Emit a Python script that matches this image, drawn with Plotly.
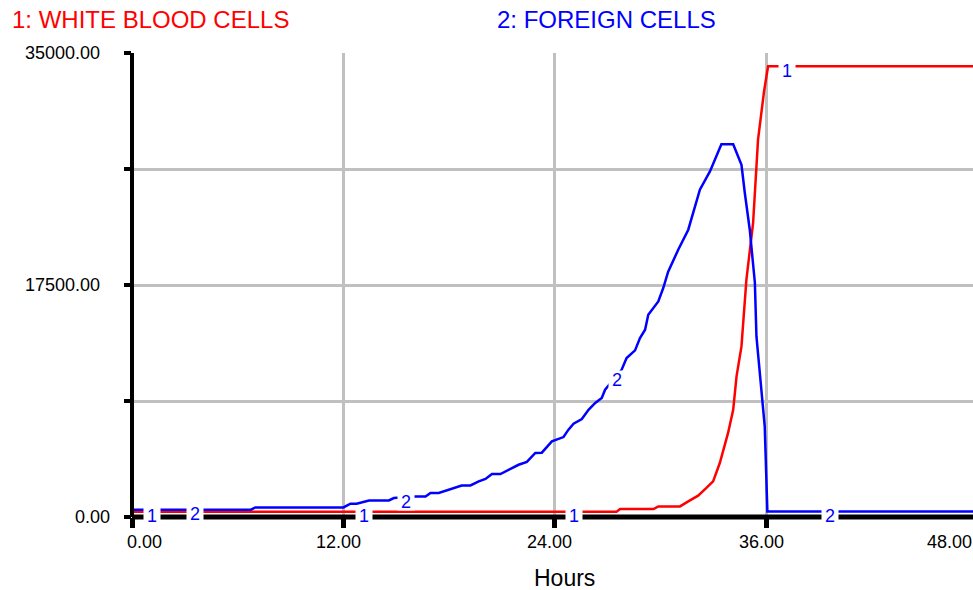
import numpy as np
import plotly.graph_objects as go

# Model run output: cell counts over time (hours)
wbc_hours = [0, 27.5, 27.7, 29.6, 29.87, 31.1, 31.57, 32.13, 32.6, 32.98, 33.36,
             33.83, 34.12, 34.31, 34.59, 34.87, 35.25, 35.53, 35.87, 36.1, 48]
wbc_cells = [400, 400, 600, 600, 800, 800, 1180, 1610, 2190, 2690, 4070,
             6340, 8090, 10610, 12870, 17900, 22180, 28460, 32100, 34000, 34000]

foreign_hours = [0, 6.75, 7.0, 12.0, 12.4, 12.75, 13.45, 14.58, 14.86, 16.05, 16.66,
                 16.94, 17.41, 17.98, 18.36, 18.71, 19.21, 19.68, 20.06, 20.43, 20.91,
                 21.38, 21.94, 22.41, 22.89, 23.26, 23.83, 24.49, 24.77, 25.06, 25.53,
                 25.91, 26.29, 26.66, 26.85, 27.79, 28.07, 28.55, 28.83, 29.12, 29.3,
                 29.87, 30.15, 30.43, 31.0, 31.57, 31.85, 32.23, 32.8, 33.08, 33.45,
                 34.12, 34.59, 34.78, 35.06, 35.35, 35.44, 35.91, 36.06, 48]
foreign_cells = [550, 550, 720, 720, 1000, 1000, 1250, 1250, 1430, 1550, 1550,
                 1810, 1810, 2060, 2230, 2380, 2380, 2690, 2870, 3240, 3240,
                 3570, 3940, 4150, 4830, 4850, 5700, 6030, 6590, 7040, 7390,
                 8090, 8600, 8980, 9600, 11110, 11990, 12570, 13500, 14130, 15260,
                 16260, 17270, 18500, 20160, 21670, 22930, 24690, 26070, 26950, 28120,
                 28120, 26570, 24440, 21670, 17670, 13620, 6830, 420, 420]

# Axis ticks and labels
x_ticks = [0, 12, 24, 36, 48]
x_tick_text = ["0.00", "12.00", "24.00", "36.00", "48.00"]
y_ticks = [0, 8750, 17500, 26250, 35000]
y_label_vals = [0, 17500, 35000]
y_label_text = ["0.00", "17500.00", "35000.00"]

# Where the series number tags sit along each curve
wbc_tag_hours = [1.15, 13.15, 25.1, 37.2]
foreign_tag_hours = [3.6, 15.55, 27.5, 39.6]

series_names = ["1: WHITE BLOOD CELLS", "2: FOREIGN CELLS"]
x_title = "Hours"

RED = "#ff0000"
BLUE = "#0000ff"
FONT = "Liberation Sans, Arial, sans-serif"
X_MAX = 47.73
Y_MAX = 35000

fig = go.Figure()
fig.add_trace(go.Scatter(x=wbc_hours, y=wbc_cells, mode="lines",
                         line=dict(color=RED, width=2.5), hoverinfo="skip"))
fig.add_trace(go.Scatter(x=foreign_hours, y=foreign_cells, mode="lines",
                         line=dict(color=BLUE, width=2.5), hoverinfo="skip"))

annotations = []

# Series number tags with white boxes that break the lines
for label, tags, hrs, vals in [("1", wbc_tag_hours, wbc_hours, wbc_cells),
                               ("2", foreign_tag_hours, foreign_hours, foreign_cells)]:
    for h in tags:
        annotations.append(dict(
            x=h, y=float(np.interp(h, hrs, vals)), xref="x", yref="y",
            text=label, showarrow=False, bgcolor="white", borderpad=0,
            width=16, height=17, yshift=-4,
            font=dict(family=FONT, size=18, color=BLUE)))


def x_label_shift(h):
    # first label nudged right of the axis, last one pulled back inside the page
    if h == x_ticks[0]:
        return 12
    if h == x_ticks[-1]:
        return -28
    return -5


# X tick labels
for h, t in zip(x_ticks, x_tick_text):
    annotations.append(dict(
        x=h / X_MAX, y=0, xref="paper", yref="paper", text=t, showarrow=False,
        xanchor="center", yanchor="middle", xshift=x_label_shift(h), yshift=-25,
        font=dict(family=FONT, size=18, color="black")))

# Y tick labels
for v, t in zip(y_label_vals, y_label_text):
    annotations.append(dict(
        x=0, y=v / Y_MAX, xref="paper", yref="paper", text=t, showarrow=False,
        xanchor="right", yanchor="middle", xshift=-20 if v == 0 else -30,
        font=dict(family=FONT, size=18, color="black")))

# Series titles along the top
annotations.append(dict(x=0, y=1, xref="paper", yref="paper", text=series_names[0],
                        showarrow=False, xanchor="left", yanchor="middle",
                        xshift=-122, yshift=34,
                        font=dict(family=FONT, size=24, color=RED)))
annotations.append(dict(x=0, y=1, xref="paper", yref="paper", text=series_names[1],
                        showarrow=False, xanchor="left", yanchor="middle",
                        xshift=363, yshift=34,
                        font=dict(family=FONT, size=24, color=BLUE)))
annotations.append(dict(x=0, y=0, xref="paper", yref="paper", text=x_title,
                        showarrow=False, xanchor="center", yanchor="middle",
                        xshift=432, yshift=-61,
                        font=dict(family=FONT, size=23, color="black")))

shapes = [
    # heavy black axes
    dict(type="line", xref="paper", yref="paper", x0=0, x1=1, y0=0, y1=0,
         line=dict(color="black", width=5), layer="above"),
    dict(type="line", xref="paper", yref="paper", x0=0, x1=0, y0=0, y1=1,
         line=dict(color="black", width=4), layer="above"),
]

fig.update_layout(
    width=973, height=590,
    margin=dict(l=132, r=0, t=53, b=73, pad=0),
    paper_bgcolor="white", plot_bgcolor="white",
    showlegend=False, hovermode=False,
    annotations=annotations, shapes=shapes,
    xaxis=dict(range=[0, X_MAX], tickvals=x_ticks, showticklabels=False,
               ticks="outside", ticklen=10, tickwidth=5, tickcolor="black",
               showgrid=True, gridcolor="#c0c0c0", gridwidth=3,
               zeroline=False, showline=False, fixedrange=True),
    yaxis=dict(range=[0, Y_MAX], tickvals=y_ticks, showticklabels=False,
               ticks="outside", ticklen=7, tickwidth=4, tickcolor="black",
               showgrid=True, gridcolor="#c0c0c0", gridwidth=3,
               zeroline=False, showline=False, fixedrange=True),
)

fig.write_html("out.html", config={"displayModeBar": False})
